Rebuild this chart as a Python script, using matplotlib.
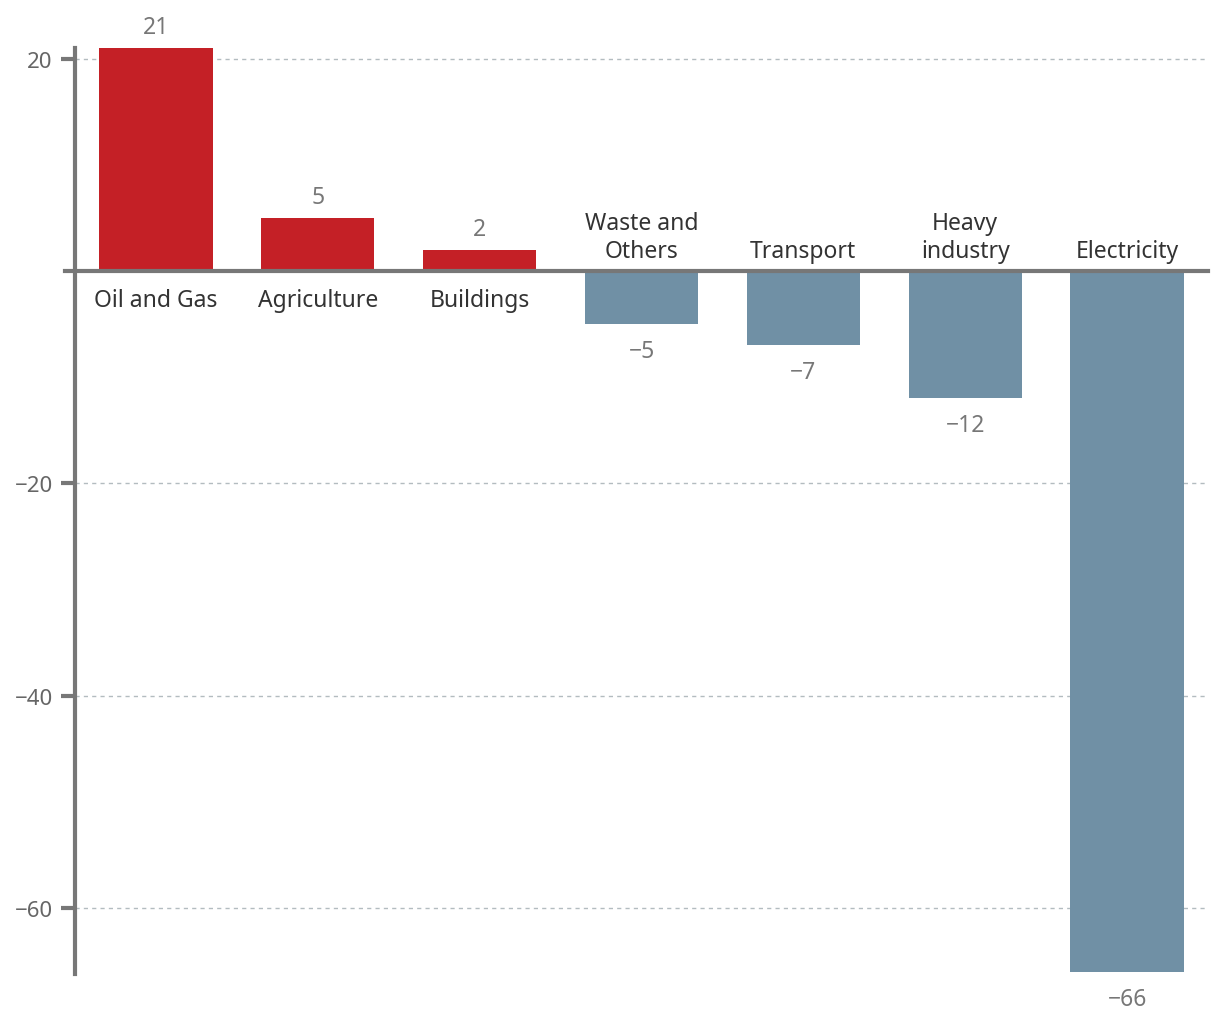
import matplotlib
matplotlib.use("Agg")
import matplotlib.pyplot as plt

plt.rcParams["font.family"] = ["Noto Sans", "DejaVu Sans"]

categories = ["Oil and Gas", "Agriculture", "Buildings", "Waste and\nOthers",
              "Transport", "Heavy\nindustry", "Electricity"]
values = [21, 5, 2, -5, -7, -12, -66]
yticks = [20, -20, -40, -60]

red = "#c42026"
blue = "#7090a5"
axis_grey = "#777777"

fig = plt.figure(figsize=(12.2, 10.2), dpi=100)
ax = fig.add_axes([75 / 1220, 1 - 975 / 1020, (1208 - 75) / 1220, (975 - 49) / 1020])

x = list(range(len(categories)))
colors = [red if v > 0 else blue for v in values]
ax.bar(x, values, width=0.7, color=colors, zorder=2)

ax.set_xlim(-0.5, 6.5)
ax.set_ylim(-66.2, 21)

# grid
for t in yticks:
    ax.axhline(t, color="#b3bcc0", lw=1, ls=(0, (3, 3)), zorder=1)
ax.axhline(0, color=axis_grey, lw=3, zorder=3, xmin=-10 / 1133, clip_on=False)

ax.set_yticks(yticks)
ax.set_yticklabels(["20", "\u221220", "\u221240", "\u221260"])
ax.tick_params(axis="y", length=10, width=3, color=axis_grey, labelcolor="#666666",
               labelsize=16, pad=6)
ax.set_xticks([])

for s in ["top", "right", "bottom"]:
    ax.spines[s].set_visible(False)
ax.spines["left"].set_color(axis_grey)
ax.spines["left"].set_linewidth(3)

fs = 16.5
for xi, v, c in zip(x, values, categories):
    lab = str(v).replace("-", "\u2212")
    if v > 0:
        ax.annotate(lab, (xi, v), xytext=(0, 9), textcoords="offset pixels",
                    ha="center", va="bottom", fontsize=fs, color="#777777")
        ax.annotate(c, (xi, 0), xytext=(0, -17), textcoords="offset pixels",
                    ha="center", va="top", fontsize=fs, color="#333333")
    else:
        ax.annotate(lab, (xi, v), xytext=(0, -15), textcoords="offset pixels",
                    ha="center", va="top", fontsize=fs, color="#777777")
        ax.annotate(c, (xi, 0), xytext=(0, 8), textcoords="offset pixels",
                    ha="center", va="bottom", fontsize=fs, color="#333333",
                    linespacing=1.2)

fig.savefig("out.png", dpi=100)
